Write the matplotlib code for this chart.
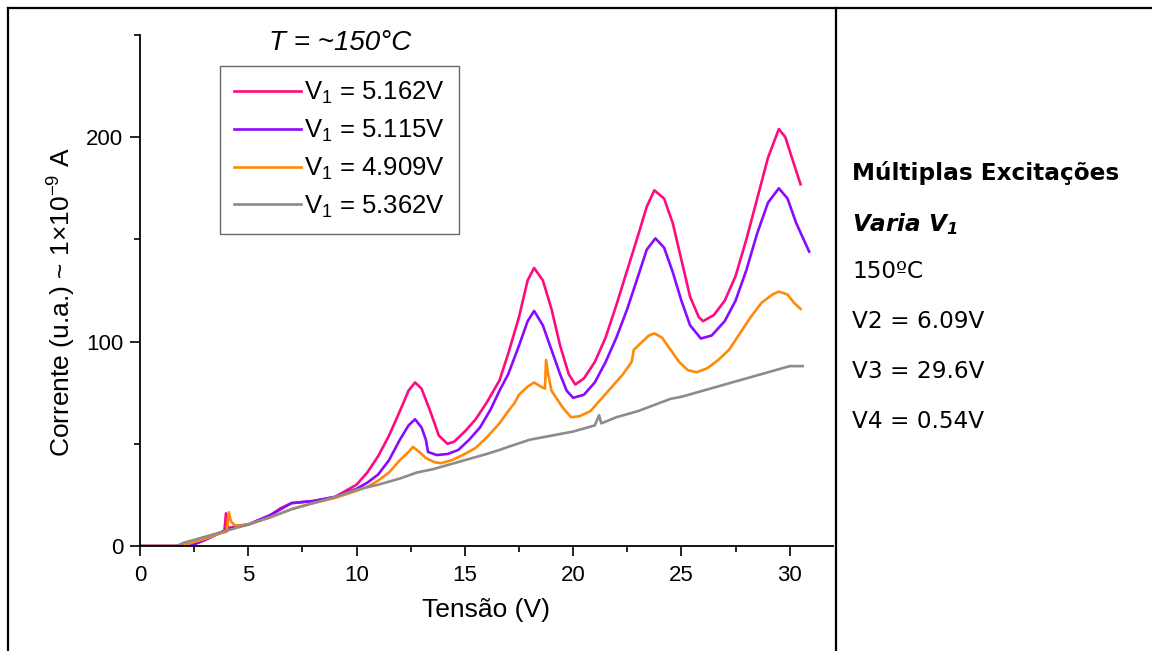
import matplotlib.pyplot as plt
from matplotlib.lines import Line2D
from matplotlib.ticker import MultipleLocator

plt.rcParams['font.family'] = ['Liberation Sans', 'DejaVu Sans']
plt.rcParams['mathtext.default'] = 'regular'

# V1 = 5.162 V
x_5162 = [0, 1.8, 2.3, 3.0, 3.5, 3.9, 3.97, 4.05, 4.2, 4.5, 5, 6, 6.5, 7, 7.5, 8, 9, 10, 10.5,
          11, 11.5, 12, 12.4, 12.7, 13.0, 13.4, 13.8, 14.2, 14.5, 15, 15.5, 16, 16.6, 17, 17.5,
          17.9, 18.2, 18.6, 19, 19.4, 19.8, 20.1, 20.5, 21, 21.5, 22, 22.5, 23, 23.4, 23.75,
          24.2, 24.6, 25, 25.4, 25.8, 26.0, 26.5, 27, 27.5, 28, 28.5, 29, 29.5, 29.8, 30.1, 30.5]
y_5162 = [0, 0, 0, 3, 5.5, 7.5, 16, 9, 9, 10, 10.5, 15, 18.5, 21, 21.5, 22, 24, 30, 36,
          44, 54, 66, 76, 80, 77, 66, 54, 50, 51, 56, 62, 70, 81, 94, 112,
          130, 136, 130, 116, 98, 84, 79, 82, 90, 102, 118, 135, 152, 166, 174,
          170, 158, 140, 122, 112, 110, 113, 120, 132, 150, 170, 190, 204, 200, 190, 177]

# V1 = 5.115 V
x_5115 = [0, 1.8, 2.3, 3.0, 3.5, 4.0, 4.5, 5, 6, 6.5, 7, 7.5, 8, 9, 10, 10.5, 11, 11.5, 12,
          12.4, 12.7, 13.0, 13.2, 13.3, 13.7, 14.2, 14.7, 15.2, 15.7, 16.2, 16.6, 17, 17.5,
          17.9, 18.2, 18.6, 19, 19.4, 19.7, 20.0, 20.5, 21, 21.5, 22, 22.5, 23, 23.4, 23.8,
          24.2, 24.6, 25, 25.4, 25.9, 26.4, 27, 27.5, 28, 28.5, 29, 29.5, 29.9, 30.3, 30.9]
y_5115 = [0, 0, 0, 3, 5.5, 8, 9.5, 10.5, 15, 18, 21, 21.5, 22, 24, 28, 31, 35, 42, 52,
          59, 62, 58, 52, 46, 44.5, 45, 47, 52, 58, 67, 76, 84, 98,
          110, 115, 108, 96, 84, 76, 72.5, 74, 80, 90, 102, 116, 132, 145, 150.5,
          146, 134, 120, 108, 101.5, 103, 110, 120, 135, 153, 168, 175, 170, 158, 144]

# V1 = 4.909 V
x_4909 = [0, 1.8, 2.5, 3.0, 3.5, 4.0, 4.1, 4.2, 4.4, 4.7, 5, 6, 7, 8, 9, 10, 10.5, 11, 11.5,
          12, 12.4, 12.6, 12.9, 13.2, 13.6, 13.9, 14.4, 15, 15.5, 16, 16.6, 17, 17.3, 17.5,
          17.9, 18.2, 18.5, 18.7, 18.75, 18.85, 19.0, 19.5, 19.9, 20.3, 20.8, 21.3, 21.8,
          22.3, 22.7, 22.8, 23.1, 23.5, 23.75, 24.1, 24.5, 24.9, 25.3, 25.7, 26.2, 26.7,
          27.2, 27.7, 28.2, 28.7, 29.2, 29.5, 29.9, 30.2, 30.5]
y_4909 = [0, 0, 2, 3.5, 5.5, 7, 16.5, 12, 10, 10, 10.5, 14, 18, 21, 23.5, 27, 29, 32, 36,
          42, 46, 48.5, 46, 43, 41, 40.5, 42, 45, 48, 53, 60, 66, 70, 74,
          78, 80, 78, 77, 91, 84, 76, 68, 63, 63.5, 66, 72, 78,
          84, 90, 96, 99, 103, 104, 102, 96, 90, 86, 85, 87, 91,
          96, 104, 112, 119, 123, 124.5, 123, 119, 116]

# V1 = 5.362 V
x_5362 = [0, 1.7, 2, 3, 4, 5, 6, 7, 8, 9, 10, 11, 12, 12.8, 13.5, 14, 15, 16, 16.6, 17, 18,
          19, 20, 20.5, 21.0, 21.2, 21.3, 22, 23, 24, 24.5, 25, 26, 27, 28, 29, 30, 30.6]
y_5362 = [0, 0, 1.5, 4.5, 7.5, 10.5, 14, 18, 21, 24, 27.5, 30, 33, 36, 37.5, 39, 42, 45, 47,
          48.5, 52, 54, 56, 57.5, 59, 64, 60, 63, 66, 70, 72, 73, 76, 79, 82, 85, 88, 88]

series = [
    (x_5162, y_5162, '#FF0A80', 'V$_1$ = 5.162V'),
    (x_5115, y_5115, '#8A0AFF', 'V$_1$ = 5.115V'),
    (x_4909, y_4909, '#FF8A0A', 'V$_1$ = 4.909V'),
    (x_5362, y_5362, '#8C8C8C', 'V$_1$ = 5.362V'),
]

notes = ['150ºC', 'V2 = 6.09V', 'V3 = 29.6V', 'V4 = 0.54V']

fig = plt.figure(figsize=(11.52, 6.51), dpi=100)
ax = fig.add_axes([140 / 1152, 1 - 546 / 651, (833 - 140) / 1152, (546 - 35) / 651])

for xs, ys, c, lab in series:
    ax.plot(xs, ys, color=c, lw=1.9, label=lab)

ax.set_xlim(0, 32)
ax.set_ylim(0, 250)
ax.xaxis.set_major_locator(MultipleLocator(5))
ax.xaxis.set_minor_locator(MultipleLocator(2.5))
ax.yaxis.set_major_locator(MultipleLocator(100))
ax.yaxis.set_minor_locator(MultipleLocator(50))
ax.spines['top'].set_visible(False)
ax.spines['right'].set_visible(False)
for s in ['left', 'bottom']:
    ax.spines[s].set_linewidth(1.3)
ax.tick_params(which='major', direction='out', length=7, width=1.2, labelsize=16, pad=5)
ax.tick_params(axis='x', which='major', pad=7)
ax.tick_params(which='minor', direction='out', length=4, width=1.2)
ax.set_xlabel('Tensão (V)', fontsize=19, labelpad=8)
ax.set_ylabel('Corrente (u.a.) ~ 1×10$^{-9}$ A', fontsize=19)
ax.yaxis.set_label_coords(-0.09, 0.477)

leg = ax.legend(loc='upper left', bbox_to_anchor=(220 / 1152, 1 - 66 / 651),
                bbox_transform=fig.transFigure, fontsize=18.5, frameon=True, fancybox=False,
                handlelength=2.6, handletextpad=0.1, borderpad=0.55, labelspacing=0.45,
                borderaxespad=0)
leg.get_frame().set_edgecolor('#444444')
leg.get_frame().set_linewidth(1.0)

fig.text(340 / 1152, 1 - 43 / 651, 'T = ~150°C', fontsize=20, style='italic',
         ha='center', va='center')

# table borders
lw = 1.6
fig.add_artist(Line2D([8 / 1152, 8 / 1152], [0, 1 - 8 / 651], color='black', lw=lw))
fig.add_artist(Line2D([8 / 1152, 1], [1 - 8 / 651, 1 - 8 / 651], color='black', lw=lw))
fig.add_artist(Line2D([836 / 1152, 836 / 1152], [0, 1 - 8 / 651], color='black', lw=lw))

tx = 852 / 1152
fig.text(tx, 1 - 173 / 651, 'Múltiplas Excitações', fontsize=16.7, fontweight='bold',
         family='DejaVu Sans', va='center')
fig.text(tx, 1 - 224 / 651, 'Varia V$_1$', fontsize=16.7, fontweight='bold', style='italic',
         family='DejaVu Sans', va='center')
for i, t in enumerate(notes):
    fig.text(tx, 1 - (272 + 50 * i) / 651, t, fontsize=16.7, family='DejaVu Sans', va='center')

fig.savefig('out.png', dpi=100)
